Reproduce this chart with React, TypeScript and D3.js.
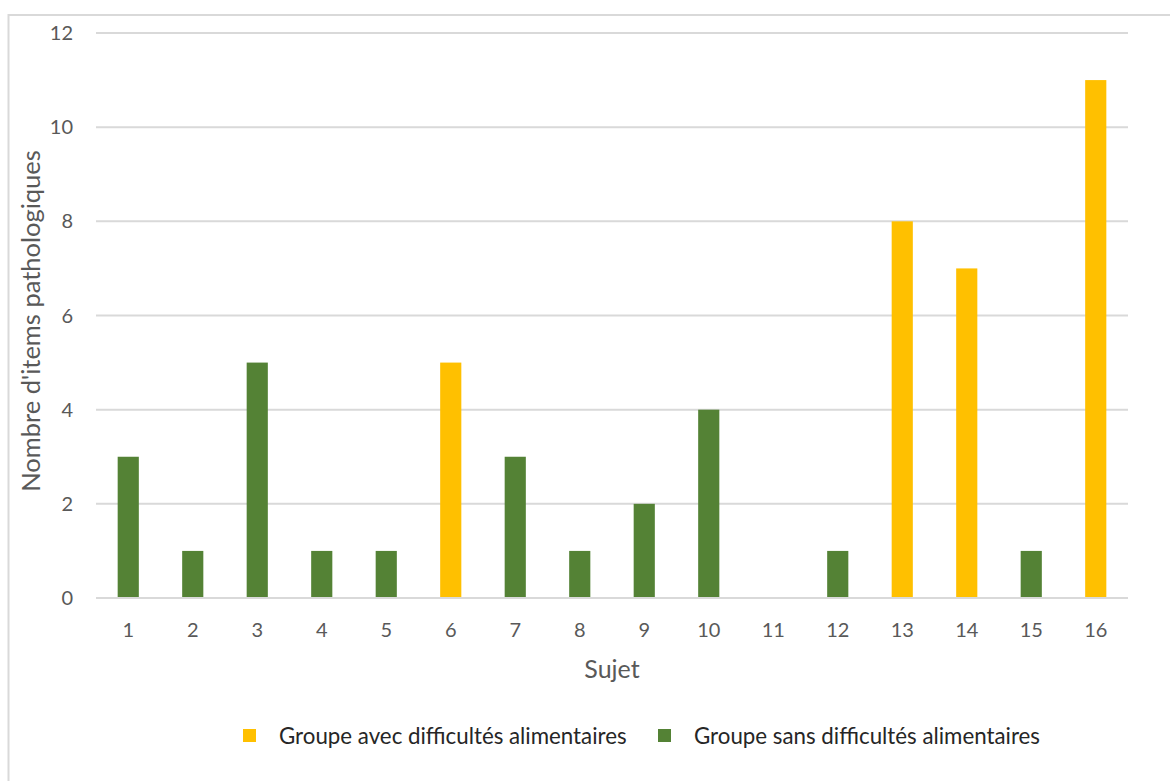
import React from "react";
import * as d3 from "d3";

const subjects = ["1","2","3","4","5","6","7","8","9","10","11","12","13","14","15","16"];
const values = [3,1,5,1,1,5,3,1,2,4,0,1,8,7,1,11];
const groups = ["sans","sans","sans","sans","sans","avec","sans","sans","sans","sans","sans","sans","avec","avec","sans","avec"];
const yTicks = [0,2,4,6,8,10,12];
const seriesNames = ["Groupe avec difficultés alimentaires", "Groupe sans difficultés alimentaires"];
const seriesKeys = ["avec", "sans"];

const W = 1170, H = 781;
const left = 96, right = 1128, top = 33, bottom = 598;
const colors: Record<string,string> = { avec: "#FFC000", sans: "#548235" };
const font = "Lato, 'Open Sans', sans-serif";

export default function App() {
  const x = d3.scaleBand<string>().domain(subjects).range([left, right]).paddingInner(0.672).paddingOuter(0.336);
  const y = d3.scaleLinear().domain([0, 12]).range([bottom, top]);
  const legendX = [243, 658];
  return (
    <svg width={W} height={H} style={{ position: "absolute", left: 0, top: 0, background: "#fff" }}>
      <rect x={8.5} y={15} width={W + 20} height={H + 20} fill="#fff" stroke="#d9d9d9" strokeWidth={2} />
      {yTicks.map(t => (
        <g key={t}>
          <line x1={left} x2={right} y1={y(t)} y2={y(t)} stroke="#d9d9d9" strokeWidth={2} />
          <text x={73} y={y(t)} dy="0.35em" textAnchor="end" fontFamily={font} fontSize={20} fill="#595959">{t}</text>
        </g>
      ))}
      {subjects.map((s, i) => (
        <rect key={s} x={x(s)} y={y(values[i])} width={x.bandwidth()} height={y(0) - y(values[i])} fill={colors[groups[i]]} />
      ))}
      <line x1={left} x2={right} y1={y(0)} y2={y(0)} stroke="#d9d9d9" strokeWidth={2} />
      {subjects.map(s => (
        <text key={s} x={(x(s) as number) + x.bandwidth() / 2} y={630} dy="0.35em" textAnchor="middle" fontFamily={font} fontSize={20} fill="#595959">{s}</text>
      ))}
      <text x={612} y={669} dy="0.35em" textAnchor="middle" fontFamily={font} fontSize={25} fill="#595959">Sujet</text>
      <text transform={`translate(31,321) rotate(-90)`} dy="0.35em" textAnchor="middle" fontFamily={font} fontSize={25.5} fill="#595959">Nombre d'items pathologiques</text>
      {seriesKeys.map((k, i) => (
        <g key={k}>
          <rect x={legendX[i]} y={729} width={13} height={13} fill={colors[k]} />
          <text x={legendX[i] + 36} y={736} dy="0.35em" fontFamily={font} fontSize={22.3} fill="#262626">{seriesNames[i]}</text>
        </g>
      ))}
    </svg>
  );
}
